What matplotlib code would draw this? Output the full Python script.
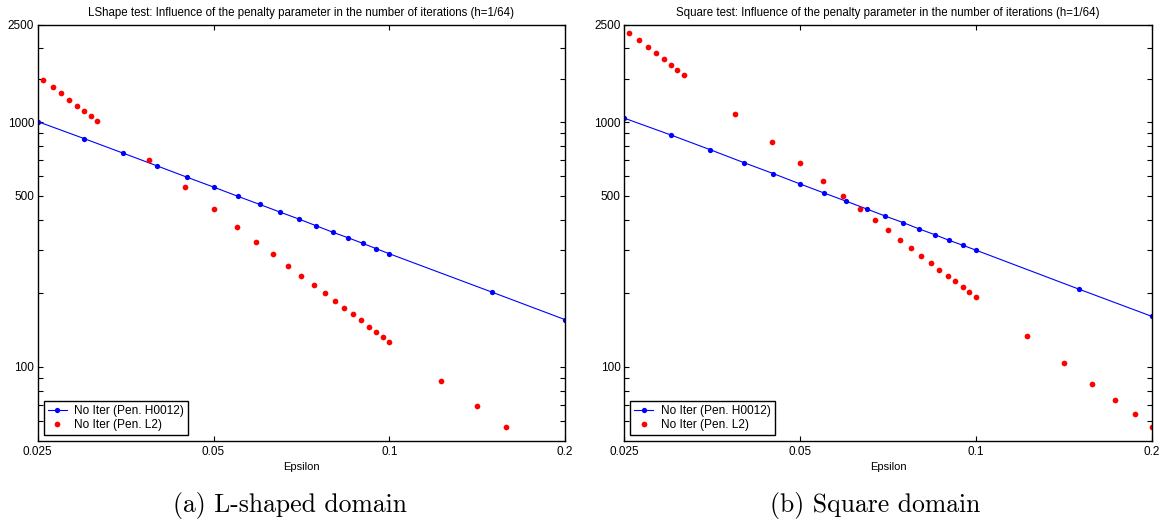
import matplotlib
matplotlib.use("Agg")
import matplotlib.pyplot as plt

# epsilon values
eps_h0012 = [0.025, 0.03, 0.035, 0.04, 0.045, 0.05, 0.055, 0.06, 0.065, 0.07,
             0.075, 0.08, 0.085, 0.09, 0.095, 0.1, 0.15, 0.2]
eps_l2 = [0.0255, 0.0265, 0.0274, 0.0283, 0.0292, 0.0300, 0.0308, 0.0316,
          0.0387, 0.0447, 0.0500, 0.0548, 0.0592, 0.0632, 0.0671, 0.0707,
          0.0742, 0.0775, 0.0806, 0.0837, 0.0866, 0.0894, 0.0922, 0.0949,
          0.0975, 0.1000, 0.1225, 0.1414, 0.1581, 0.1732, 0.1871, 0.2000]

# L-shaped domain
lshape_h0012 = [1005, 857, 747, 663, 596, 543, 498, 461, 429, 402,
                377, 355, 337, 320, 304, 290, 202, 156]
lshape_l2 = [1489, 1394, 1309, 1237, 1169, 1112, 1058, 1009,
             701, 543, 441, 374, 325, 289, 259, 236,
             216, 200, 186, 174, 164, 155, 146, 139,
             133, 127, 88, 69, 57]

# Square domain
square_h0012 = [1038, 887, 773, 684, 616, 559, 513, 475, 442, 413,
                389, 366, 347, 329, 314, 300, 208, 161]
square_l2 = [2302, 2156, 2026, 1907, 1809, 1719, 1636, 1561,
             1081, 831, 680, 576, 501, 443, 399, 362,
             331, 306, 285, 267, 250, 236, 224, 212,
             202, 193, 134, 104, 85, 73, 64, 57]

titles = [
    "LShape test: Influence of the penalty parameter in the number of iterations (h=1/64)",
    "Square test: Influence of the penalty parameter in the number of iterations (h=1/64)",
]
captions = ["(a) L-shaped domain", "(b) Square domain"]
caption_x = [0.249, 0.751]
xticks = [0.025, 0.05, 0.1, 0.2]
xticklabels = ["0.025", "0.05", "0.1", "0.2"]
yticks = [100, 500, 1000, 2500]
yminor = [60, 70, 80, 90, 200, 300, 400, 600, 700, 800, 900, 1500, 2000]

plt.rcParams["font.family"] = ["Liberation Sans", "DejaVu Sans"]

fig = plt.figure(figsize=(11.65, 5.23), dpi=100)
lefts = [0.0324, 0.5359]
data = [(lshape_h0012, lshape_l2), (square_h0012, square_l2)]

for i, (h0012, l2) in enumerate(data):
    ax = fig.add_axes([lefts[i], 0.1574, 0.4527, 0.7954])
    ax.plot(eps_h0012, h0012, "-o", color=(0, 0, 1), lw=0.8, ms=3.8, mew=0,
            label="No Iter (Pen. H0012)")
    ax.plot(eps_l2[:len(l2)], l2, "o", color=(1, 0, 0), ms=4.1, mew=0,
            label="No Iter (Pen. L2)")
    ax.set_xscale("log")
    ax.set_yscale("log")
    ax.set_xlim(0.025, 0.2)
    ax.set_ylim(50, 2500)
    ax.set_xticks(xticks)
    ax.set_xticklabels(xticklabels)
    ax.set_xticks([], minor=True)
    ax.set_yticks(yticks)
    ax.set_yticklabels([str(v) for v in yticks])
    ax.set_yticks(yminor, minor=True)
    ax.set_yticklabels([], minor=True)
    ax.tick_params(which="both", direction="in", top=True, right=True,
                   length=3.5, width=0.8, labelsize=8.5)
    ax.tick_params(axis="y", pad=2.5)
    ax.tick_params(axis="x", pad=4)
    for s in ax.spines.values():
        s.set_linewidth(1.0)
    ax.set_title(titles[i], fontsize=8.3, pad=6)
    ax.set_xlabel("Epsilon", fontsize=8, labelpad=3)
    leg = ax.legend(loc="lower left", bbox_to_anchor=(0.011, 0.013),
                    borderaxespad=0, fontsize=8.6, fancybox=False,
                    framealpha=1, edgecolor="black", handlelength=1.6,
                    handletextpad=0.6, borderpad=0.35, labelspacing=0.15)
    leg.get_frame().set_linewidth(1.0)
    fig.text(caption_x[i], 0.034, captions[i],
             family="cmr10", fontsize=18.5, ha="center", va="center")

fig.savefig("out.png", dpi=100)
